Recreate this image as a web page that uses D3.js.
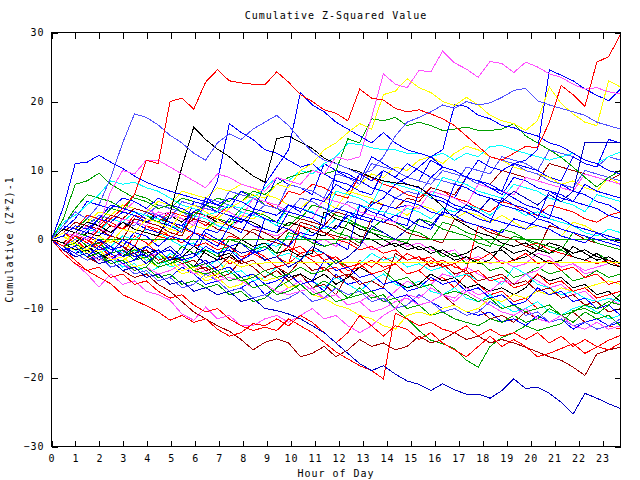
<!DOCTYPE html>
<html><head><meta charset="utf-8">
<script src="https://cdn.jsdelivr.net/npm/d3@7"></script>
<style>
body{margin:0;background:#fff}
svg{display:block}
text{font-family:"DejaVu Sans Mono",monospace;font-size:10px;letter-spacing:1px;fill:#000}
</style></head><body>
<svg id="c" width="640" height="480"></svg>
<script>
const title = "Cumulative Z-Squared Value";
const xTitle = "Hour of Day";
const yTitle = "Cumulative (Z*Z)-1";
const xTicks = [0,1,2,3,4,5,6,7,8,9,10,11,12,13,14,15,16,17,18,19,20,21,22,23];
const yTicks = [-30,-20,-10,0,10,20,30];
const hourRange = [0, 23.75];
const valueRange = [-30, 30];

// each series: values at half-hour steps from 0 to 23.5, then 23.75
const s01 = [0,-1,0.5,-0.5,1.5,3,4.5,6.5,11.5,11, 20,20.5,18.9,22.8,24.6,23,22.7,22.5,22.4,24.3, 22.8,21,20,18.8,18.3,17.2,21.8,20.5,20.2,19, 18.5,18.8,18.2,17.5,16.5,15,13.5,12,11.5,12.5, 13.5,13.3,17,22.3,21,19.3,25.7,26.5,29.7];
const s02 = [0,4.7,11,11.2,12.2,11.2,10.3,9.2,8.3,7.6, 7,6.5,6,5.5,5,6,5.5,4.5,4,3.5, 5,4.5,3.8,3.2,4.5,4,3.5,3,2.5,3.5, 3,2,1.5,4,3.5,2.5,2,1.5,1,3, 2.5,2,1.5,0.5,0,-0.5,1,0,-0.5];
const s03 = [0,2,4,3,5,9,14,18.2,17.7,16.6, 15.1,14,12.5,11.5,14,15.3,14.5,16,17,18, 16.5,14.5,12.7,11.5,11,10.3,9.5,10,12,15, 17,17.7,18.5,19.5,19,20,19.5,19.8,20.6,21.6, 21.9,20.1,19.5,19,18.5,18,17,16.5,16];
const s04 = [0,-1,1,0,2,7,10,9.5,11.5,11.5, 10.5,9.5,8.5,7.5,9.5,9,8,7.5,7,9, 8.5,8,10,9.5,12,11.5,12,17.7,24,22.5, 22,24.5,24.3,27.3,25.6,24.7,23.5,25.8,25.5,24.2, 25.7,25,24,23.5,22.5,21.8,22,21.4,21.1];
const s05 = [0,1,-0.5,-1.5,0.5,-0.5,1.5,1,3,2.5, 1.5,4,5,4,3,4.5,5.5,6.5,6,8, 7.5,10,11,13,14,15.5,16.8,16,21,21.5, 23.3,22,21.3,20,19.4,20.6,19.5,18,17.2,16.8, 15.8,17.2,22.1,19.7,18.2,17,16.5,23,22.1];
const s06 = [0,-1.5,-1,0.5,0,-1.5,-1,1,0.5,-1, 0.5,0,-1,1.5,1,3,2.5,4,8,10.5, 13,21.3,19.5,18.5,17,16,15,14,15.5,14, 13,12.5,12,10.5,10,9,8.5,7.5,7,6, 5,4.5,3.5,3,2,1.5,1,0.5,0];
const s07 = [0,-1.5,-1,-2.5,-1,-2,0,-1,-2.5,-1.5, -3,-2,1,0,-1,2,1,4,3,2.5, 5,4,6,5.5,8,7,9.5,8.5,10,9, 11,10,9,10.5,10,9,11.5,10.5,10,11, 11.5,13,24.6,23.8,23,21.8,20.9,20.1,21.8];
const s08 = [0,1,-0.5,-1.5,0,-1,-2.5,-2,-3.5,-2, -1,-2.5,-2,-3.5,-3,-1,-2,-1.5,-3,-2.5, -4,-3,-1,-2,-3.5,-2.5,-1,2,1,0, 1.5,3,2,4,3.5,5,4,6,5.5,7, 6,5,6.5,5.5,7,14.1,14.1,14.1,14.1];
const s09 = [0,-1.5,-2.5,-2,-3.5,-3,-4.5,-4,-5.5,-5, -6.5,-6,-7.5,-7,-8,-7.5,-9,-8.5,-10,-10.3, -10.8,-11.5,-12.5,-13.5,-15,-16.5,-18,-19,-18.3,-19.5, -20.5,-21,-21.9,-20.9,-21.8,-22.4,-22.4,-23,-21.9,-20.2, -21.6,-21.4,-22.3,-23.6,-25.3,-22.3,-23,-23.8,-24.5];
const s10 = [0,-1.5,-3,-4.5,-4,-5.5,-5,-6.5,-6,-7.5, -8.5,-8,-9.5,-10.5,-10,-11.5,-12.5,-13.2,-12.7,-13.2, -11.5,-12.5,-13.5,-14.9,-16.3,-17.3,-18.3,-19,-20.2,-10.7, -11.5,-12.5,-12,-13,-13.5,-12.5,-14,-13,-14,-13.5, -14.5,-13.5,-15,-14,-15.5,-14.5,-15.5,-16,-15];
const s11 = [0,-2,-3.5,-4.5,-5.5,-6.4,-8,-8.8,-9.6,-10.5, -11.7,-11,-12,-11.5,-13,-14,-13.5,-12.2,-12.5,-11.5, -12.5,-11,-12,-13.5,-15,-13.5,-11,-12.5,-14,-12.5, -13,-14.5,-13.5,-15,-16,-17,-15.5,-14,-15.5,-14.5, -15.5,-17,-16.5,-15.8,-15.1,-16.5,-15.6,-14.6,-13.9];
const s12 = [0,-1.5,-1,-2.5,-3.5,-3,-4.5,-5.5,-5,-6.5, -7.5,-9,-10.5,-11.5,-12.5,-13.3,-14.5,-16,-14.9,-14.4, -15,-17,-16.5,-15.5,-17,-16,-14.5,-15.5,-15,-16, -15.5,-14,-15,-14.5,-13.5,-14.5,-14,-15,-14.5,-15, -15.6,-16.3,-17,-17.5,-18.5,-19.7,-16.6,-16,-15.6];
const s13 = [0,-2,-3.5,-5,-6.9,-5,-6.5,-6,-7.5,-8, -8.8,-10.8,-11.7,-9.8,-11.5,-11,-12.5,-12.5,-11.5,-11, -12,-11,-10,-11.5,-11,-12.5,-13.5,-12.5,-11,-10, -8,-8.5,-7,-8,-9,-7.5,-8.5,-9.5,-10.5,-11, -10,-11.5,-12,-11,-12.5,-13,-12,-13,-12.5];
const s14 = [0,-1.5,-1,-2.5,-2,-3.5,-3,-4.5,-4,-2, -3.5,-3,-4.5,-5,-4.5,-6,-5.5,-7,-6.5,-8, -7.5,-6.5,-8,-7.5,-9,-8.5,-7,-8.5,-8,-10, -11.5,-13.2,-14.6,-15.1,-15.8,-17.5,-18.5,-15.5,-14.2,-13.5, -12.5,-13.2,-12.7,-12.2,-10.3,-10,-10.8,-9.5,-7.9];
const s15 = [0,1.5,1,0.5,0,0,0,0,0,0, 0,0,0,0,0,0,0,0,0,0, 0,0,0,0,0,0,0,0,0,0, 0,0,0,0,0,0,0,0,0,0, 0,0,0,0,0,0,0,0,0];
const s16 = [0,0.5,-1,-2,-1.5,-3,-2.5,-4,-3.5,-2, -3,-4.5,-4,-5.5,-5,-3,-4,-3.5,-3.4,-3.4, -3.4,-3.4,-3.4,-3.4,-3.4,-3.4,-3.4,-3.4,-3.4,-3.4, -3.4,-3.4,-3.4,-3.4,-3.4,-3.4,-3.4,-3.4,-3.4,-3.4, -3.4,-3.4,-3.4,-3.4,-3.4,-3.4,-3.4,-3.4,-3.4];
const s17 = [0,1.5,1,2.5,2,1,2.5,1.5,1,0.5, 3.7,10.5,16.3,14.5,13.1,12,10.5,9.2,8.3,14.6, 15,14.1,13.2,11.8,11,10.3,9.8,9,8.5,8.2, 8,7.6,6.3,4.8,3,2,1,0.5,-0.5,-1, -0.5,-1.5,-2,-1,-2.5,-3,-2,-3.5,-4];
const s18 = [0,2.5,3.5,5,6.5,8.5,8,8.3,7.5,7, 6,5,4.5,3.5,4,5,4.5,6,7.5,9, 8.5,10,9.5,11,12,13.9,13.8,13.3,13,13, 12.5,12.5,12,12.5,11.5,12.5,12,13.5,13.6,13, 12.5,12,11.5,12,12.5,11.5,11,12,12.7];
const s19 = [0,3,8,8.5,9.6,8,7,6,5.5,4.5, 5,4,3.5,5,4.5,6,5.5,7,6.5,8, 9,9.5,10,9.5,10,14.6,14,17.5,17.2,17.7, 16.5,17,16.5,15.8,16,16.3,15.8,15.8,16,16.8, 15,14,13,11.9,10.5,9,7.6,9,10];
const s20 = [0,0.5,2,1.5,3,2.5,4,3.5,2.5,3.5, 2.5,2,4,5,8.5,16.8,15.5,14.5,13,12.5, 11.5,10.5,11,9.5,8.5,8,7,6.5,10,9, 8,7.5,6.5,6,5,4.5,4,3,2.5,2, 1.5,3,2.5,1.5,1,0.5,0,-0.5,-1];
const s21 = [0,-1,0.5,-0.5,-1.5,-1,-2.5,-2,-1,-2, -1.5,-3,-2.5,-1,-2,-1.5,-3,-2,-1.5,0, -1,1,0.5,2,1.5,3.5,3,5,6,8, 9,10.5,12,13,19.5,19.3,18,17.5,16.5,16.2, 15.5,15,14,13.5,12.5,11.5,11,10,9.5];
const s22 = [0,1,0,-1.5,-1,-2.5,-2,0.5,-0.5,-2, -1.5,-3,-2.5,-1,-2,-3.5,-3,-1.5,-2.5,-4, -3.5,-2,-3,-4.5,-4,-5.5,-3,-4,-2.5,-3.5, -5,-4.5,-6,-5.5,-7,-5,-6.5,-8,-7.5,-9, -8.5,-10,-9.5,-11,-10.5,-12,-11.5,-12.5,-13];
const s23 = [0,2,1.5,3,2.5,4.5,4,6.5,6,5, 4.5,6,5.5,5,6,5.5,7,6.5,5,4.5, 3.5,3,5,4.5,3.5,3,2,1.5,3,2.5, 1.5,1,0,2.5,2,1,0.5,-0.5,-1,0.5, 0,-1,-2,-1.5,-2.5,-3,-2,-3,-3.5];
const s24 = [0,-1,-2,-1.5,-3,-2.5,-4,-3.5,-5,-4, -2,-3,-4.5,-4,-3,-5,-4.5,-6,-5.5,-4, -5,-6.5,-6,-7,-5.5,-6.5,-7.5,-6,-5,-6.5, -7,-6,-7.5,-8,-7,-8.5,-9,-8,-9.5,-10.5, -10,-9,-10.5,-11,-10,-9.5,-10.5,-11.5,-11];
const s25 = [0,1,-0.5,-2,-1.5,-3,-2,-1,-2.5,-2, -3.5,-3,-4.5,-3.5,-5,-6,-5.5,-7,-6.5,-8, -7,-6,-7.5,-8.5,-8,-9.5,-9,-8,-9,-7.5, -6,-7,-6.5,-5,-5.5,-4,-5,-6,-5.5,-6.5, -5,-6,-7,-6.5,-8,-7.5,-9,-8.5,-9.5];
const s26 = [0,0.5,-1,0.5,0,-1.5,-1,-2.5,-2,-3.5, -2.5,-3,-4.5,-4,-5.5,-5,-3,-4,-5.5,-4.5, -6,-5,-7,-6.5,-8,-5,-6,-7.5,-7,-8.5, -8,-9.5,-9,-8,-9.5,-10.5,-10,-11.5,-11,-12, -10.5,-11.5,-12,-11,-10.5,-12,-11.5,-12.5,-12];
const s27 = [0,1.5,1,2.5,4,3.5,5,4.5,4,5.5, 5,7,6.5,6,7.5,7,8,7.5,6.5,6, 5,4.5,6,5.5,4.5,7,6.5,6,5,4.5, 3.5,5,4.5,3.5,3,4,3.5,2.5,3.5,2.5, 1.5,2,1.5,0.5,2.5,2,1,0.5,0];
const s28 = [0,-1,-2,-1.5,-3,-2,-3.5,-3,-2,-3.5, -3,-4.5,-4,-1.5,-2.5,-2,-3.5,-3,-4.5,-4, -5.5,-5,-6,-5,-6.5,-5.5,-4,-5,-6.5,-6, -7,-6.5,-5,-6,-5.5,-7,-6.5,-7.5,-7,-8, -7,-5,-6,-5.5,-7,-6.5,-8,-7.5,-9];
const s29 = [0,1,2.5,2,3.5,3,2.5,4,3.5,5, 4.5,4,3,6,5.5,5,4,3.5,5,4.5, 4,6,5.5,4.5,4,5.5,5,4,3.5,6, 7,6.5,9,8.5,8,10.5,10,9.5,12,11.5, 11,10,13,12.5,12,11,10.5,12,11.5];
const s30 = [0,-1.5,-1,-2.5,-2,-4,-3.5,-5,-4.5,-6, -5.5,-4,-5,-6.5,-6,-7.5,-7,-6,-8,-7, -5,-6.5,-6,-7.5,-5,-6.5,-6,-7.5,-7,-8.5, -8,-9.5,-9,-10,-9.5,-10.5,-11,-10.5,-12,-11.5, -12.5,-11,-12,-11.5,-13,-12,-11.5,-12.5,-12];
const s31 = [0,0.5,2,1.5,3,2.5,1.5,3.5,3,2.5, 4,3.5,3,2,3.5,5,4.5,6,5.5,4.5, 7,6.5,8,7.5,6.5,6,9.5,9,8,7.5, 6.5,6,7.5,7,6,5.5,4.5,4,5.5,5, 4,3.5,5,4.5,4,3,2.5,3.5,4];
const s32 = [0,-0.5,-1.5,-1,-2.5,-3.5,-3,-4.5,-4,-5.5, -5,-6.5,-6,-7,-6.5,-8,-7.5,-9,-8.5,-7, -6,-7.5,-7,-6,-7,-8.5,-8,-7.5,-9,-8.5, -10,-9.5,-11,-10.5,-11.5,-12,-12.5,-11.5,-12,-11, -12,-11.5,-10,-11,-12,-10.5,-11.5,-11,-12.5];
const s33 = [0,1,0.5,-0.5,-1.5,-1,0.5,0,1.5,1, 0,-1,-0.5,-1.5,-2,-1.5,-2.5,-2,-1,-2.5, -2,-3,-1.5,-2,-3,-4,-3.5,-2,-3,-2.5, -4,-3.5,-4.5,-4,-5.5,-5,-6,-5.5,-6.5,-4, -5,-6.5,-7,-8,-7.5,-8.5,-9,-8.5,-9];
const s34 = [0,0.5,2,1.5,3,2.5,4,5.5,4.5,3.5, 4,3,2.5,3.5,2,1.5,3,2,1,0.5, 1.5,1,-0.5,0,-1,0.5,0,-1.5,-1,0, -1,-0.5,-1.5,-2,-1.5,-3,-2.5,-3.5,-3,-4, -3.5,-2,-2.5,-4,-3.5,-5,-4.5,-5.5,-5];
const s35 = [0,1.5,1,2.5,2,3.5,3,4.5,4,3, 2.5,1.5,3,2.5,1.5,1,0,1.5,1,0, 1.5,3,2.5,2,4,3.5,3,5.5,5,4.5, 6,5.5,7.5,7,6.5,9,8.5,8,10,9.5, 9,8.5,11,10.5,10,9.5,9,8.5,9.5];
const s36 = [0,-1,-1.5,-2.5,-2,-3.5,-3,-2,-3,-4, -3.5,-5,-4.5,-6,-5.5,-7,-6.5,-5,-6,-5.5, -7,-6.5,-8,-8.5,-9.5,-10,-11,-11.5,-12.5,-13, -11,-10.5,-11,-10,-9.5,-10.5,-10,-8.5,-9,-8, -8.5,-7.5,-8,-7,-7.5,-7,-6.5,-6,-6.5];
const s37 = [0,0.5,-0.5,1,0.5,2,1.5,3,2.5,4, 3.5,2.5,4,3.5,2.5,2,3,2.5,1.5,1, 2.5,2,1,0.5,2,1.5,0.5,0,-1,-0.5, -1.5,-1,-2,-1.5,-2.5,-2,-1,-2,-1.5,-3, -2.5,-1.5,-0.5,-1,-2,-1.5,-2.5,-3,-3.5];
const s38 = [0,-1,-2,-3,-2.5,-4,-3.5,-5,-4.5,-6, -5.5,-7,-6.5,-5,-6,-7.5,-7,-8.5,-8,-9, -8.5,-7.5,-9,-8.5,-7,-8,-7.5,-9,-8.5,-10, -9.5,-8,-9,-10.5,-10,-11,-10.5,-9,-10,-9.5, -11,-10.5,-12,-11.5,-12.5,-12,-13,-12.5,-11.5];
const s39 = [0,1.5,3,5.5,5,4.5,6,5.5,4.5,6, 5,4.5,3.5,5,4,3.5,2.5,4,3.5,2.5, 2,3.5,3,2,1.5,4,3,2.5,5,4.5, 5,4.5,7,6.5,6,9,8.5,8,7,11, 10.5,10,9,8.5,12,11,10.5,14.5,14];
const s40 = [0,-1,0.5,0,-1.5,-1,-2.5,-2,-1,0.5, 0,1.5,1,0,-1,0.5,0,-1,-0.5,-2, -1.5,-1,-2.5,-2,-3,-4.5,-4,-3,-4,-3.5, -5,-4.5,-3,-4,-3.5,-5,-4.5,-6,-5.5,-7, -6.5,-5,-6.5,-6,-7.5,-7,-8.5,-8,-7.5];
const s41 = [0,2,4.5,6.5,6,5.5,4.5,4,3.5,2.5, 3.5,3,2,1.5,3,2.5,4.5,4,3.5,2.5, 2,3.5,3,2,1,0.5,-0.5,1.5,1,0, -0.5,-1.5,-1,-2.5,-2,-3.5,-3,-4.5,-4,-5.5, -5,-4,-5,-4.5,-6,-5.5,-4.5,-5.5,-5];
const s42 = [0,-0.5,-1.5,-2.5,-2,-1,-2,-1.5,-3,-2.5, -4,-3.5,-2.5,-1.5,-2,-1,-2,-1.5,-0.5,-1, 0.5,0,2,1.5,3,2.5,5,4.5,4,3.5, 4.5,4,3,4.5,4,5,4.5,3.5,5,4.5, 3.5,4,3,2.5,2,1,0.5,1.5,1];
const s43 = [0,-1.5,-1,-2,-3,-2.5,-3.5,-4.5,-4,-5, -4.5,-3.5,-5,-4.5,-6,-5.5,-6,-7,-6.5,-7.5, -8,-7.5,-7,-8.5,-8,-9.5,-9,-10.5,-10,-9, -8.5,-9.5,-9,-8,-8.5,-7,-8,-7.5,-6,-6.5, -5,-4.5,-3,-4,-3.5,-4.5,-4,-3.5,-4];
const s44 = [0,-0.5,1,0.5,-0.5,0,-1,-2,-1.5,-3, -2.5,-3.5,-3,-4.5,-4,-2.5,-3.5,-3,-4.5,-4, -5,-3,-4.5,-4,-5.5,-5,-6.5,-6,-7,-2, -3,-2.5,-4,-3.5,-5,-4.5,-6,-5.5,-5,-6.5, -6,-7.5,-7,-8.5,-8,-9.5,-9,-10.5,-10];
const s45 = [0,0.5,-0.5,-1.5,-1,0,-0.5,-1.5,-1,0, 1.5,1,2,1.5,2.5,2,3.5,3,4,3.5, 5,4.5,6,5.5,7,6.5,8,9.5,9,10.5, 10,11.5,12,11,12.5,13.5,13,12,11.5,10.5, 10,9.5,9,8,8.5,7.5,7,9,8];
const s46 = [0,-1,-2.5,-2,-3.5,-3,-1.5,-2.5,-2,-3.5, -3,-4.5,-4,-3,-4.5,-4,-5.5,-5,-6.5,-6, -5,-6.5,-6,-3,-4.5,-4,-5.5,-5,-6.5,-6, -7.5,-7,-5.5,-6.5,-6,-7.5,-7,-8.5,-8,-9.5, -9,-7,-8,-7.5,-9,-8.5,-10,-9.5,-11];
const s47 = [0,1,0.5,-1,-0.5,-2,-1.5,-3,-2.5,-4, -3.5,-2.5,-4,-3.5,-5,-4.5,-6,-5.5,-4.5,-5.5, -5,-4,-5,-4.5,-3,-4,-3.5,-5,-4.5,-6, -5.5,-7,-6.5,-8,-7.5,-8,-9,-8.5,-10,-9.5, -10.5,-10,-9.5,-11,-10.5,-9.5,-10,-9,-9.5];
const s48 = [0,2,1.5,3.5,3,2,1.5,2.5,2,1, 0.5,-0.5,1,0.5,-0.5,-1,-2,-1.5,-3,-2.5, -1,-2,-1.5,-3,-2.5,-4,-3.5,-5,-4.5,-3.5, -2,-3,-2.5,-4,-3.5,-2.5,-3,-2,-3.5,-3, -2,-3.5,-3,-4.5,-4,-5.5,-5,-6.5,-6];
const s49 = [0,1,2.5,2,1,0.5,3,2.5,1.5,1, 2.5,2,1,6,5,4.5,7,6,5.5,9, 8,7.5,6.5,11,10,9.5,8.5,12,11,10, 9,8.5,11.5,10.5,10,9,8,7.5,6.5,9, 8.5,7.5,7,6,5.5,8,7,6.5,6];
const s50 = [0,-1,0,1.5,1,3,2.5,2,4,3.5, 3,5.5,5,4.5,4,7,6.5,6,5,4.5, 8,7.5,7,6,9.5,9,8,11,10.5,10, 9,8.5,8,10,9.5,9,8,12,11.5,11, 10,9.5,8.5,8,7.5,10,9.5,9,8.5];
const s51 = [0,-1,-2,-1,-2.5,-2,-3.5,-3,-1,-2, -1.5,-3,-2.5,1,0,-1,-0.5,-2,3,2, 1.5,0.5,0,-1,-0.5,-1.5,5,4,3.5,2.5, 2,7,6,5.5,4.5,4,3,2.5,6,5, 4.5,3.5,3,8,7,6.5,5.5,5,4];
const s52 = [0,1.5,1,0,-1,0.5,0,-1,2,1.5, 0.5,0,-1,-0.5,-1.5,-1,-2.5,-2,-3,-2.5, -3.5,2,1.5,1,0,-0.5,-1.5,-1,-2,-1.5, -3,-2.5,-3.5,-3,-4,-4.5,2,1.5,0.5,0, -1,-0.5,-1.5,-2,-2.5,-3,-3.5,-3,-4];
const s53 = [0,0.5,2,1.5,1,3,2.5,4,3.5,3, 2,1.5,3.5,3,2,1.5,4,3.5,3,2, 5,4.5,4,3,7,6.5,6,5,8.5,8, 7.5,7,6,9,8.5,8,7,6.5,6,8, 7.5,7,6,5.5,5,4,6.5,6,5.5];
const s54 = [0,-0.5,-1.5,-1,-2,-3,-2.5,-1,-2,-1.5, -3,-2.5,-1,-2,-3,-2.5,0,-1,-0.5,-2, -1.5,-2.5,-2,4,3,2.5,1.5,1,0,-1, -0.5,-1.5,-1,-2,-3,-2.5,-3.5,-3,-1,-2, -1.5,-2.5,-3.5,-3,-1,-2,-3,-2.5,-3.5];
const s55 = [0,1,0.5,2,1.5,1,3,2.5,2,4, 3.5,3,2,5,4.5,4,3,6,5.5,5, 4,3.5,3,6,5.5,5,4,3.5,3,2.5, 5,4.5,7,6.5,6,5,8,7.5,7,6.5, 9,8.5,8,7.5,7,9.5,9,8.5,8];
const s56 = [0,1,2.5,2,1.5,0.5,0,3,2.5,2, 1,0.5,4,3.5,3,2,1.5,1,0,-0.5, -1,2.5,2,1,0.5,0,-1,3,2.5,2, 1,0.5,0,-0.5,3,2.5,2,1,0.5,0, -1,-1.5,2,1.5,1,0,-0.5,-1,-1.5];
const s57 = [0,2,1.5,1,3,5,4.5,4,3,2.5, 2,1,5.5,5,4,3.5,3,2,1.5,1, 4,3.5,3,2,10,9,8.5,7.5,7,6, 5.5,5,4,3.5,8,7.5,6.5,6,5,4.5, 4,3,7,6.5,5.5,5,4.5,3.5,3];
const s58 = [0,-1,-0.5,-2,-1.5,-3,-2.5,-1.5,-2,-3.5, -3,-1,-2,-1.5,-2.5,0,-0.5,-1.5,-1,-2, 1,0.5,-0.5,-1,-0.5,2.5,2,1,0.5,0, -0.5,3,2.5,1.5,1,0.5,-0.5,-1,1.5,1, 0,-0.5,-1,-1.5,1,0.5,-0.5,-1,-1.5];

const seriesValues = [s22,s23,s24,s25,s26,s27,s28,s29,s30,s31,s32,s33,s34,s35,s36,s37,s38,s39,s40,s41,s42,s43,s44,s45,s46,s47,s48,
  s49,s50,s51,s52,s53,s54,s55,s56,s57,s58,
  s15,s16,s14,s13,s12,s11,s10,s09,s08,s18,s19,s20,s21,s17,s07,s06,s05,s03,s02,s04,s01];
const seriesColors = ["#ff0000","#00a000","#00ffff","#ff50ff","#a00000","#ffff00","#000000","#5050ff","#0000ff","#ff0000",
  "#00a000","#00ffff","#ff50ff","#a00000","#ffff00","#000000","#5050ff","#0000ff","#ff0000","#00a000",
  "#00ffff","#ff50ff","#a00000","#ffff00","#0000ff","#00a000","#ff0000",
  "#0000ff","#5050ff","#0000ff","#ff0000","#00ffff","#000000","#ff50ff","#a00000","#0000ff","#00a000",
  "#00a000","#ffff00","#00a000","#ff50ff","#a00000","#ff0000","#ff0000","#0000c0","#0000c0","#00ffff","#00a000","#0000ff","#0000ff","#000000","#0000ff","#0000ff","#ffff00","#5050ff","#0000ff","#ff50ff","#ff0000"];

const svg = d3.select("#c");
const L = 51.5, R = 620.5, T = 32.5, B = 446.5;
const x = d3.scaleLinear().domain(hourRange).range([L, R]);
const y = d3.scaleLinear().domain(valueRange).range([B, T]);

svg.append("rect").attr("width",640).attr("height",480).attr("fill","#fff");

const line = d3.line().x(d => x(d[0])).y(d => y(d[1]));
const g = svg.append("g");
seriesValues.forEach((vals, k) => {
  const n = vals.length;
  const pts = vals.map((v, i) => [i * hourRange[1] / (n - 1), v]);
  g.append("path").datum(pts).attr("d", line)
    .attr("fill","none").attr("stroke", seriesColors[k]).attr("stroke-width",1)
    .attr("shape-rendering","crispEdges");
});

// axes (ticks point inward)
const tl = 6;
svg.append("g").attr("transform",`translate(0,${B})`)
  .call(d3.axisBottom(x).tickValues(xTicks).tickFormat(d3.format("d")).tickSizeInner(-tl).tickSizeOuter(0).tickPadding(8));
svg.append("g").attr("transform",`translate(0,${T})`)
  .call(d3.axisTop(x).tickValues(xTicks).tickFormat("").tickSizeInner(-tl).tickSizeOuter(0));
svg.append("g").attr("transform",`translate(${L},0)`)
  .call(d3.axisLeft(y).tickValues(yTicks).tickFormat(d3.format("d")).tickSizeInner(-tl).tickSizeOuter(0).tickPadding(7));
svg.append("g").attr("transform",`translate(${R},0)`)
  .call(d3.axisRight(y).tickValues(yTicks).tickFormat("").tickSizeInner(-tl).tickSizeOuter(0));
svg.selectAll(".domain").remove();
svg.selectAll(".tick line").attr("stroke","#000").attr("shape-rendering","crispEdges");
svg.selectAll(".tick text").attr("fill","#000").style("font-family",'"DejaVu Sans Mono",monospace').style("font-size","10px");

svg.append("rect").attr("x",L).attr("y",T).attr("width",R-L).attr("height",B-T)
  .attr("fill","none").attr("stroke","#000").attr("shape-rendering","crispEdges");

svg.append("text").attr("x",(L+R)/2).attr("y",19).attr("text-anchor","middle").text(title);
svg.append("text").attr("x",(L+R)/2).attr("y",477).attr("text-anchor","middle").text(xTitle);
svg.append("text").attr("transform",`translate(13,${(T+B)/2}) rotate(-90)`).attr("text-anchor","middle").text(yTitle);
</script>
</body></html>
